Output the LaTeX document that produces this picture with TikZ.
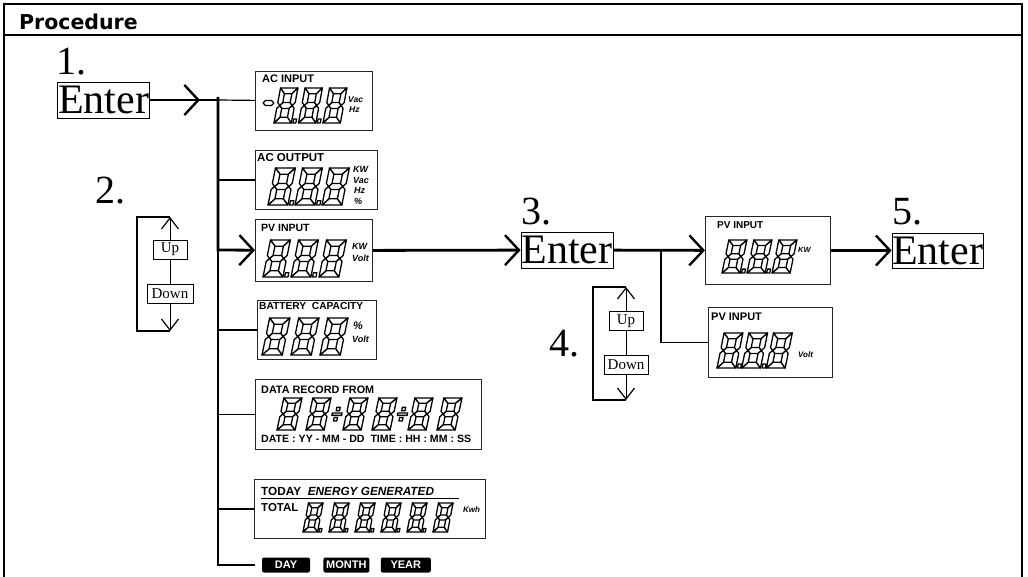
\documentclass[tikz,border=0pt]{standalone}
\usepackage{fontspec}
\setmainfont{Liberation Serif}
\newfontfamily\lcdfont{Liberation Sans}
\newfontfamily\headfont{DejaVu Sans}
\usepackage{tikz}
\usetikzlibrary{arrows.meta, positioning}

\tikzset{
  frameln/.style={line width=2.2pt},
  thickln/.style={line width=2.8pt},
  thinln/.style={line width=1.2pt},
  loopln/.style={line width=2pt},
  bigbarb/.tip={Straight Barb[length=14pt,width=30pt,line width=2.4pt]},
  smallbarb/.tip={Straight Barb[length=11pt,width=17pt,line width=1.2pt]},
  enterbox/.style={draw, line width=0.8pt, inner sep=0pt, minimum width=92pt,
    minimum height=36pt, font=\fontsize{42}{42}\selectfont},
  keybox/.style={draw, line width=0.7pt, fill=white, inner sep=0pt,
    minimum height=19pt, font=\fontsize{15}{15}\selectfont},
  steplab/.style={anchor=base west, inner sep=0pt, font=\fontsize{40}{40}\selectfont},
  lcdbox/.style={draw=black!85, line width=1.1pt, anchor=north west, inner sep=0pt},
  lcdlab/.style={anchor=base west, inner sep=0pt, font=\lcdfont\bfseries\fontsize{#1}{#1}\selectfont},
  lcdlab/.default=10.5,
  unitlab/.style={anchor=base west, inner sep=0pt, font=\lcdfont\bfseries\itshape\fontsize{#1}{#1}\selectfont},
  unitlab/.default=8.5,
  tagbox/.style={fill=black, rounded corners=2pt, text=white, inner sep=0pt,
    minimum height=15pt, font=\lcdfont\bfseries\fontsize{11}{11}\selectfont},
  segline/.style={draw=black, fill=white, line width=1.3pt, line join=round},
  % one seven-segment digit, unit width 1 and height 2
  pics/segdig/.style={code={
    \begin{scope}[xslant=0.22]
      \draw[segline] (-0.2,-0.2) -- (1.2,-0.2) -- (0.8,0.2) -- (0.2,0.2) -- cycle;
      \draw[segline] (0,1) -- (0.2,0.8) -- (0.8,0.8) -- (1,1) -- (0.8,1.2) -- (0.2,1.2) -- cycle;
      \draw[segline] (-0.2,2.2) -- (1.2,2.2) -- (0.8,1.8) -- (0.2,1.8) -- cycle;
      \draw[segline] (-0.2,-0.2) -- (0.2,0.2) -- (0.2,0.8) -- (0,1) -- (-0.2,0.8) -- cycle;
      \draw[segline] (-0.2,1.2) -- (0,1) -- (0.2,1.2) -- (0.2,1.8) -- (-0.2,2.2) -- cycle;
      \draw[segline] (1.2,-0.2) -- (1.2,0.8) -- (1,1) -- (0.8,0.8) -- (0.8,0.2) -- cycle;
      \draw[segline] (1,1) -- (1.2,1.2) -- (1.2,2.2) -- (0.8,1.8) -- (0.8,1.2) -- cycle;
    \end{scope}}},
  pics/segdot/.style={code={
    \draw[segline, xslant=0.22] (1.32,1.92) rectangle (1.56,2.2);}},
  pics/segsep/.style={code={
    \begin{scope}[xslant=0.22]
      \draw[segline] (0.38,0.5) rectangle (0.64,0.76);
      \draw[segline] (0.12,0.92) rectangle (0.88,1.1);
      \draw[segline] (0.34,1.26) rectangle (0.6,1.52);
    \end{scope}}}
}

% row of digits: [width ratio] left, top, height, pitch, count, dots (1/0)
\newcommand{\segrow}[7][0.9]{%
  \pgfmathsetmacro{\segys}{#4/2.4}%
  \pgfmathsetmacro{\segxs}{#1*\segys}%
  \foreach \k in {1,...,#6}{%
    \pic[xscale=\segxs,yscale=\segys] at ({#2+0.684*\segxs+(\k-1)*#5},{#3+0.2*\segys}) {segdig};
    \ifnum#7=1 \ifnum\k<#6
      \pic[xscale=\segxs,yscale=\segys] at ({#2+0.684*\segxs+(\k-1)*#5},{#3+0.2*\segys}) {segdot};
    \fi\fi
  }}

\begin{document}
\begin{tikzpicture}[x=1pt, y=-1pt]
  \useasboundingbox (0,0) rectangle (1028,577);
  % frame and heading
  \draw[frameln] (4,577) -- (4,4) -- (1022,4) -- (1022,577);
  \draw[frameln] (4,35) -- (1022,35);
  \node[anchor=base west, inner sep=0pt, font=\headfont\bfseries\fontsize{20.5}{20.5}\selectfont]
    (proc) at (19,30) {Procedure};

  % steps
  \node[steplab] (n1) at (56,75) {1.};
  \node[enterbox] (enter1) at (103.5,100) {Enter};
  \node[steplab] (n2) at (95,204) {2.};
  \node[steplab] (n3) at (521,225) {3.};
  \node[enterbox] (enter3) at (567,250) {Enter};
  \node[steplab] (n4) at (549,356) {4.};
  \node[steplab] (n5) at (892,225) {5.};
  \node[enterbox, minimum width=91pt, minimum height=35pt] (enter5) at (937.5,250.5) {Enter};

  % display boxes
  \node[lcdbox, minimum width=117pt, minimum height=59pt] (acin) at (255,71) {};
  \node[lcdbox, minimum width=122pt, minimum height=59pt] (acout) at (255,150) {};
  \node[lcdbox, minimum width=117pt, minimum height=62pt] (pv1) at (255,219) {};
  \node[lcdbox, minimum width=119pt, minimum height=59pt] (batt) at (257,300) {};
  \node[lcdbox, minimum width=226pt, minimum height=70pt] (drec) at (255,379) {};
  \node[lcdbox, minimum width=231pt, minimum height=59pt] (today) at (254,479) {};
  \node[lcdbox, minimum width=125pt, minimum height=68pt] (pv2) at (705,216) {};
  \node[lcdbox, minimum width=124pt, minimum height=70pt] (pv3) at (708,307) {};

  % AC INPUT
  \node[lcdlab=11] (acinl) at (262,82.5) {AC INPUT};
  \draw[segline] (263,103) -- (265.5,100.5) -- (271.5,100.5) -- (274,103) -- (271.5,105.5) -- (265.5,105.5) -- cycle;
  \segrow[0.85]{274}{88}{35}{24.5}{3}{1}
  \node[unitlab] (acinu1) at (348,103) {Vac};
  \node[unitlab] (acinu2) at (349,113) {Hz};
  % AC OUTPUT
  \node[lcdlab=11.5] (acoutl) at (257,162) {AC OUTPUT};
  \segrow[0.92]{268}{168}{37}{27}{3}{1}
  \node[unitlab=9] (acoutu1) at (353,173) {KW};
  \node[unitlab=9] (acoutu2) at (353,183.5) {Vac};
  \node[unitlab=9] (acoutu3) at (354,194) {Hz};
  \node[unitlab=9] (acoutu4) at (354,205) {\%};
  % PV INPUT
  \node[lcdlab] (pv1l) at (261,232) {PV INPUT};
  \segrow[0.92]{263}{240}{37}{28}{3}{1}
  \node[unitlab=9] (pv1u1) at (352,250) {KW};
  \node[unitlab=9] (pv1u2) at (352,262) {Volt};
  % BATTERY CAPACITY
  \node[lcdlab=10.2] (battl) at (259,310) {BATTERY\ \ CAPACITY};
  \segrow[0.94]{262}{318}{37}{29}{3}{0}
  \node[unitlab=11] (battu1) at (353,330) {\%};
  \node[unitlab=9] (battu2) at (352,342) {Volt};
  % DATA RECORD FROM
  \node[lcdlab=10.8] (drecl) at (261,393) {DATA RECORD FROM};
  \segrow[0.97]{277}{398}{32}{29}{2}{0}
  \segrow[0.97]{343}{398}{32}{29}{2}{0}
  \segrow[0.97]{408}{398}{32}{29}{2}{0}
  \pic[xscale=12.9,yscale=13.33] at (333.4,400.7) {segsep};
  \pic[xscale=12.9,yscale=13.33] at (398.9,400.7) {segsep};
  \node[lcdlab=10.6] (drecb) at (261,442) {DATE : YY - MM - DD\ \ TIME : HH : MM : SS};
  % TODAY / TOTAL
  \node[lcdlab=11.8] (todayl) at (261,495) {TODAY\ \ \itshape ENERGY GENERATED};
  \draw[line width=1pt] (261,498) -- (459,498);
  \node[lcdlab=11.5] (totall) at (261,511) {TOTAL};
  \segrow[0.86]{303}{503}{29}{26}{6}{1}
  \node[unitlab=8] (todayu) at (463,512) {Kwh};
  % DAY MONTH YEAR
  \node[tagbox, minimum width=48pt] (day) at (286,565) {DAY};
  \node[tagbox, minimum width=46pt, right=13pt of day] (month) {MONTH};
  \node[tagbox, minimum width=50pt, right=11pt of month] (year) {YEAR};
  % PV INPUT (KW) and PV INPUT (Volt)
  \node[lcdlab=10] (pv2l) at (717,229) {PV INPUT};
  \segrow[0.94]{722}{240}{33}{25}{3}{1}
  \node[unitlab=7.5] (pv2u) at (798,253) {KW};
  \node[lcdlab=11] (pv3l) at (711,320) {PV INPUT};
  \segrow[0.92]{717}{333}{35}{24.7}{3}{1}
  \node[unitlab=8] (pv3u) at (798,357) {Volt};

  % Up / Down keys
  \node[keybox, minimum width=34pt] (up2) at (170,249.5) {Up};
  \node[keybox, minimum width=46pt] (down2) at (170,294) {Down};
  \node[keybox, minimum width=34pt] (up4) at (626,321) {Up};
  \node[keybox, minimum width=44pt] (down4) at (626,365) {Down};
  \coordinate (l2top) at (170,217);
  \coordinate (l2bot) at (170,331);
  \coordinate (l4top) at (626,287);
  \coordinate (l4bot) at (626,400);
  \draw[loopln] (l2top) -- ++(-33,0) |- (l2bot);
  \draw[loopln] (l4top) -- ++(-33,0) |- (l4bot);
  \draw[thinln, line width=1pt, -smallbarb] (up2) -- (l2top);
  \draw[thinln, line width=1pt] (up2) -- (down2);
  \draw[thinln, line width=1pt, -smallbarb] (down2) -- (l2bot);
  \draw[thinln, line width=1pt, -smallbarb] (up4) -- (l4top);
  \draw[thinln, line width=1pt] (up4) -- (down4);
  \draw[thinln, line width=1pt, -smallbarb] (down4) -- (l4bot);

  % connectors
  \coordinate (a1) at (200,100);
  \coordinate (j1) at (218,100);
  \coordinate (jtop) at (218,97);
  \coordinate (jpv) at (218,250);
  \coordinate (jbot) at (218,565);
  \coordinate (jr) at (661,250);
  \draw[thickln] (enter1) -- (j1);
  \draw[thickln, -bigbarb] (enter1) -- (a1);
  \draw[thickln, -bigbarb] (jtop) -- (jpv) -- (pv1);
  \draw[thinln] (jpv) -- (jbot) -- (day) [shorten >=7pt];
  \draw[thinln] (j1) -- (acin);
  \foreach \b in {acout, batt, drec, today}
    \draw[thinln] (\b.west -| jtop) -- (\b.west);
  \draw[thickln, -bigbarb] (pv1) -- (enter3);
  \draw[thickln, -bigbarb] (enter3) -- (pv2);
  \draw[thinln] (jr) |- (pv3);
  \draw[thickln, -bigbarb] (pv2) -- (enter5);
\end{tikzpicture}
\end{document}
